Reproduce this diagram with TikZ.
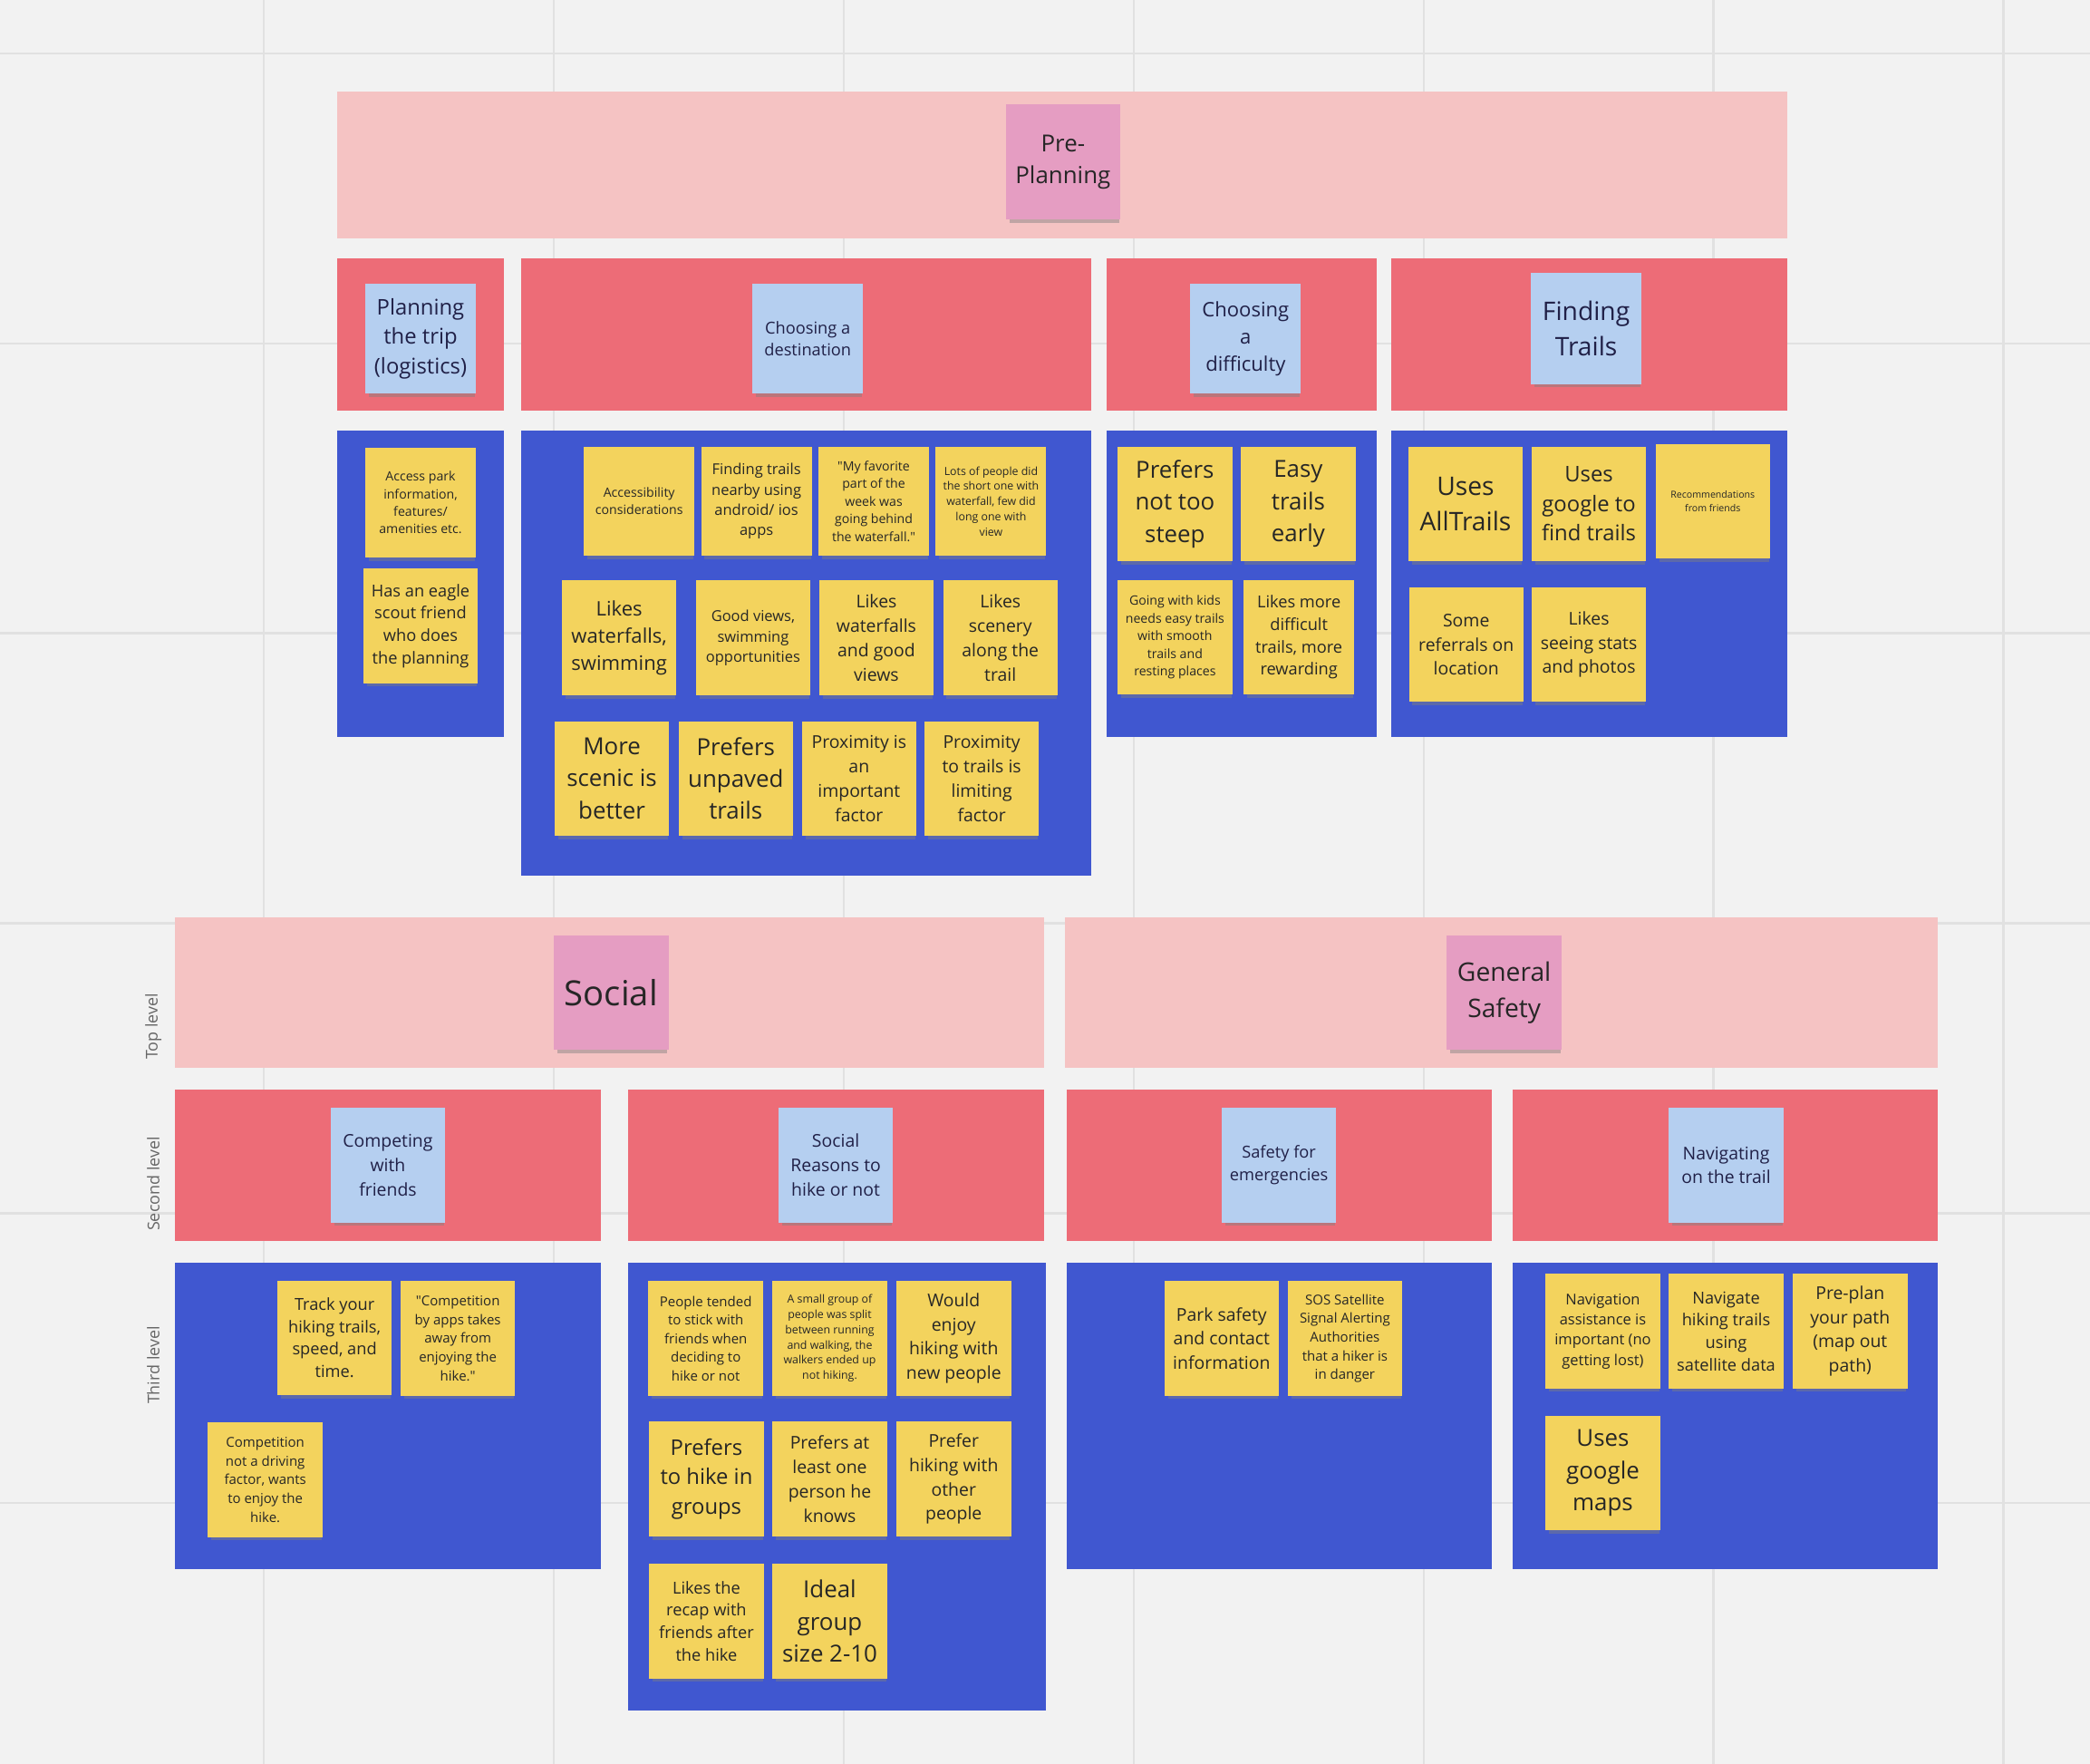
\documentclass[tikz,border=0pt]{standalone}
\usepackage{fontspec}
\defaultfontfeatures[\rmfamily]{}
\setmainfont{Open Sans}
\usetikzlibrary{shadows}

\definecolor{boardbg}{HTML}{F2F2F2}
\definecolor{gridln}{HTML}{E1E1E1}
\definecolor{toplvl}{HTML}{F5C3C3}
\definecolor{seclvl}{HTML}{ED6C77}
\definecolor{thirdlvl}{HTML}{4057D0}
\definecolor{pinknote}{HTML}{E59DC2}
\definecolor{bluenote}{HTML}{B5CFF0}
\definecolor{yellownote}{HTML}{F3D35D}
\definecolor{ink}{HTML}{262626}

\begin{document}
\begin{tikzpicture}[x=0.5pt,y=-0.5pt,
    note/.style={fill=yellownote, minimum width=43pt, minimum height=43pt,
      inner sep=0pt, align=center, text=ink,
      drop shadow={opacity=0.45, shadow xshift=0.5pt, shadow yshift=-2.2pt, shadow scale=0.96}},
    topnote/.style={note, fill=pinknote},
    secnote/.style={note, fill=bluenote, text=ink!85!blue},
    lvllabel/.style={rotate=90, text=black!60, font=\fontsize{6.1}{7}\selectfont},
    fX/.style={font=\fontsize{13}{16}\selectfont},
    fA/.style={font=\fontsize{9.6}{13.5}\selectfont},
    fB/.style={font=\fontsize{8.8}{12}\selectfont},
    fC/.style={font=\fontsize{8.1}{11}\selectfont},
    fD/.style={font=\fontsize{7.5}{10.25}\selectfont},
    fE/.style={font=\fontsize{6.6}{9.1}\selectfont},
    fF/.style={font=\fontsize{6.2}{8.4}\selectfont},
    fG/.style={font=\fontsize{5.6}{7.6}\selectfont},
    fH/.style={font=\fontsize{5.1}{7}\selectfont},
    fI/.style={font=\fontsize{4.8}{6.6}\selectfont},
    fJ/.style={font=\fontsize{4.2}{5.7}\selectfont},
    fK/.style={font=\fontsize{3.6}{5}\selectfont}]

  % board and grid
  \useasboundingbox (0,0) rectangle (1568,1323);
  \fill[boardbg] (0,0) rectangle (1568,1323);
  \foreach \gx in {198,415.5,633,850.5,1068,1285.5,1503}
    \draw[gridln, line width=0.8pt] (\gx,0) -- (\gx,1323);
  \foreach \gy in {40,257.5,475,692.5,910,1127.5}
    \draw[gridln, line width=0.8pt] (0,\gy) -- (1568,\gy);

  % level bands
  \fill[toplvl] (253,69) rectangle (1341,179);
  \fill[seclvl] (253,194) rectangle (378,308);
  \fill[seclvl] (391,194) rectangle (819,308);
  \fill[seclvl] (830,194) rectangle (1033,308);
  \fill[seclvl] (1044,194) rectangle (1341,308);
  \fill[thirdlvl] (253,323) rectangle (378,553);
  \fill[thirdlvl] (391,323) rectangle (819,657);
  \fill[thirdlvl] (830,323) rectangle (1033,553);
  \fill[thirdlvl] (1044,323) rectangle (1341,553);

  \fill[toplvl] (131,688) rectangle (783,801);
  \fill[toplvl] (799,688) rectangle (1454,801);
  \fill[seclvl] (131,817) rectangle (451,931);
  \fill[seclvl] (471,817) rectangle (783,931);
  \fill[seclvl] (800,817) rectangle (1119,931);
  \fill[seclvl] (1135,817) rectangle (1454,931);
  \fill[thirdlvl] (131,947) rectangle (451,1177);
  \fill[thirdlvl] (471,947) rectangle (785,1283);
  \fill[thirdlvl] (800,947) rectangle (1119,1177);
  \fill[thirdlvl] (1135,947) rectangle (1454,1177);

  \node(LT)[lvllabel] at (115,770) {Top level};
  \node(LS)[lvllabel] at (115,888) {Second level};
  \node(LH)[lvllabel] at (115,1024) {Third level};

  % pre-planning
  \node(PP)[topnote, fB] at (797.5,121.5) {Pre-\\Planning};

  \node(PT)[secnote, fC, minimum width=41.5pt, minimum height=41pt] at (315.5,254) {Planning\\the trip\\(logistics)};
  \node(CD)[secnote, fF, minimum width=41.5pt, minimum height=41pt] at (606,254) {Choosing a\\destination};
  \node(CF)[secnote, fD, minimum width=41.5pt, minimum height=41pt] at (934.5,254) {Choosing\\a\\difficulty};
  \node(FT)[secnote, fA, minimum width=41.5pt, minimum height=41.5pt] at (1190,246.5) {Finding\\Trails};

  \node(PT1)[note, fI, minimum width=41.5pt, minimum height=41pt] at (315.5,377) {Access park\\information,\\features/\\amenities etc.};
  \node(PT2)[note, fF] at (315.5,469.5) {Has an eagle\\scout friend\\who does\\the planning};

  \node(CD1)[note, fI, minimum width=41.5pt, minimum height=41pt] at (479.5,376) {Accessibility\\considerations};
  \node(CD2)[note, fG, minimum width=41.5pt, minimum height=41pt] at (567.5,376) {Finding trails\\nearby using\\android/ ios\\apps};
  \node(CD3)[note, fI, minimum width=41.5pt, minimum height=41pt] at (655.5,376) {"My favorite\\part of the\\week was\\going behind\\the waterfall."};
  \node(CD4)[note, fJ, minimum width=41.5pt, minimum height=41pt] at (743.5,376) {Lots of people did\\the short one with\\waterfall, few did\\long one with\\view};
  \node(CD5)[note, fD] at (464.5,478.5) {Likes\\waterfalls,\\swimming};
  \node(CD6)[note, fG] at (565,478.5) {Good views,\\swimming\\opportunities};
  \node(CD7)[note, fE] at (657.5,478.5) {Likes\\waterfalls\\and good\\views};
  \node(CD8)[note, fE] at (750.5,478.5) {Likes\\scenery\\along the\\trail};
  \node(CD9)[note, fB] at (459,584) {More\\scenic is\\better};
  \node(CD10)[note, fB] at (552,584) {Prefers\\unpaved\\trails};
  \node(CD11)[note, fE] at (644.5,584) {Proximity is\\an\\important\\factor};
  \node(CD12)[note, fE] at (736.5,584) {Proximity\\to trails is\\limiting\\factor};

  \node(CF1)[note, fB] at (881.5,378) {Prefers\\not too\\steep};
  \node(CF2)[note, fB] at (974,378) {Easy\\trails\\early};
  \node(CF3)[note, fI] at (881.5,478) {Going with kids\\needs easy trails\\with smooth\\trails and\\resting places};
  \node(CF4)[note, fF, minimum width=41.5pt] at (974.5,478) {Likes more\\difficult\\trails, more\\rewarding};

  \node(FT1)[note, fA] at (1099.5,378) {Uses\\AllTrails};
  \node(FT2)[note, fC] at (1192,378) {Uses\\google to\\find trails};
  \node(FT3)[note, fK] at (1285,376) {Recommendations\\from friends};
  \node(FT4)[note, fE] at (1100,483.5) {Some\\referrals on\\location};
  \node(FT5)[note, fE] at (1192,483.5) {Likes\\seeing stats\\and photos};

  % social
  \node(SO)[topnote, fX] at (458.5,744.5) {Social};
  \node(CW)[secnote, fE] at (291,874) {Competing\\with\\friends};
  \node(SR)[secnote, fE] at (627,874) {Social\\Reasons to\\hike or not};

  \node(CW1)[note, fF] at (251,1003.5) {Track your\\hiking trails,\\speed, and\\time.};
  \node(CW2)[note, fH] at (343.5,1004) {"Competition\\by apps takes\\away from\\enjoying the\\hike."};
  \node(CW3)[note, fH] at (199,1110) {Competition\\not a driving\\factor, wants\\to enjoy the\\hike.};

  \node(SR1)[note, fH] at (529.5,1004) {People tended\\to stick with\\friends when\\deciding to\\hike or not};
  \node(SR2)[note, fJ] at (622.5,1004) {A small group of\\people was split\\between running\\and walking, the\\walkers ended up\\not hiking.};
  \node(SR3)[note, fE] at (715.5,1004) {Would\\enjoy\\hiking with\\new people};
  \node(SR4)[note, fC] at (530,1109.5) {Prefers\\to hike in\\groups};
  \node(SR5)[note, fE] at (622.5,1109.5) {Prefers at\\least one\\person he\\knows};
  \node(SR6)[note, fE] at (715.5,1109.5) {Prefer\\hiking with\\other\\people};
  \node(SR7)[note, fF] at (530,1216) {Likes the\\recap with\\friends after\\the hike};
  \node(SR8)[note, fB] at (622.5,1216) {Ideal\\group\\size 2-10};

  % general safety
  \node(GS)[topnote, fA] at (1128.5,744.5) {General\\Safety};
  \node(SE)[secnote, fF] at (959.5,874) {Safety for\\emergencies};
  \node(NT)[secnote, fE] at (1295,874) {Navigating\\on the trail};

  \node(SE1)[note, fE] at (916.5,1004) {Park safety\\and contact\\information};
  \node(SE2)[note, fH] at (1009,1004) {SOS Satellite\\Signal Alerting\\Authorities\\that a hiker is\\in danger};

  \node(NT1)[note, fG] at (1202.5,998.5) {Navigation\\assistance is\\important (no\\getting lost)};
  \node(NT2)[note, fF] at (1295,998.5) {Navigate\\hiking trails\\using\\satellite data};
  \node(NT3)[note, fE] at (1388,998.5) {Pre-plan\\your path\\(map out\\path)};
  \node(NT4)[note, fB] at (1202.5,1105) {Uses\\google\\maps};
\end{tikzpicture}
\end{document}
